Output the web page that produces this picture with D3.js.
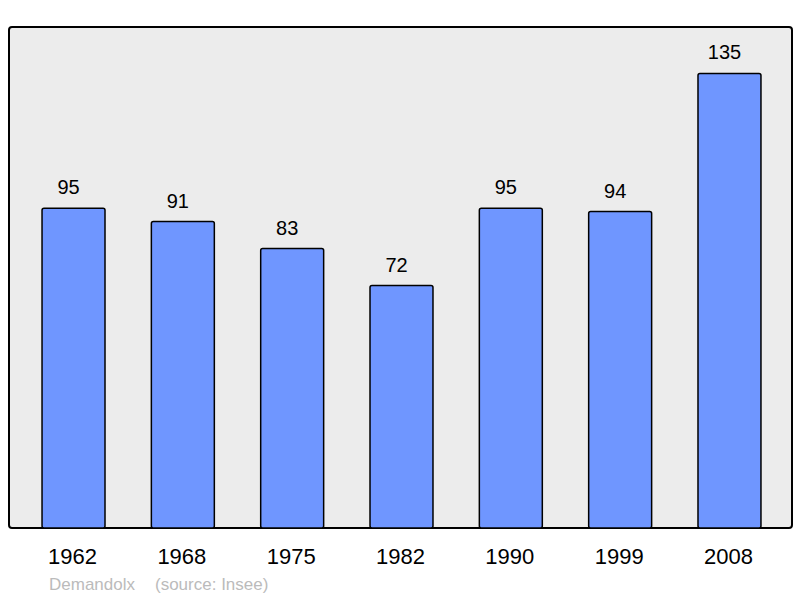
<!DOCTYPE html>
<html>
<head>
<meta charset="utf-8">
<script src="https://cdn.jsdelivr.net/npm/d3@7"></script>
<style>
body{margin:0;background:#fff;}
text{font-family:"Liberation Sans",Arial,sans-serif;}
</style>
</head>
<body>
<div id="chart"></div>
<script>
// données population
var years = ['1962','1968','1975','1982','1990','1999','2008'];
var population = [95, 91, 83, 72, 95, 94, 135];
var commune = 'Demandolx';
var source = '(source: Insee)';

var width = 800, height = 598;
var svg = d3.select('#chart').append('svg')
    .attr('width', width).attr('height', height);

// cadre du graphique
svg.append('rect')
    .attr('x', 9).attr('y', 27)
    .attr('width', 783).attr('height', 501)
    .attr('rx', 3).attr('ry', 3)
    .attr('fill', '#ececec')
    .attr('stroke', '#000').attr('stroke-width', 2);

var x = d3.scaleBand().domain(years).range([10, 793])
    .paddingInner(0.424).paddingOuter(0.293);
var y = d3.scaleLinear().domain([0, 148.5]).range([528, 28]);

var data = years.map(function(yr, i){ return {year: yr, value: population[i]}; });

svg.append('g').selectAll('rect').data(data).enter().append('rect')
    .attr('x', d => x(d.year))
    .attr('y', d => y(d.value))
    .attr('width', x.bandwidth())
    .attr('height', d => y(0) - y(d.value))
    .attr('rx', 2).attr('ry', 2)
    .attr('fill', '#6f96ff')
    .attr('stroke', '#000').attr('stroke-width', 1.5);

// valeurs au-dessus des barres (un peu décalées à gauche comme l'original)
svg.append('g').selectAll('text').data(data).enter().append('text')
    .attr('x', d => x(d.year) + x.bandwidth()/2 - 5)
    .attr('y', d => y(d.value) - 14)
    .attr('text-anchor', 'middle')
    .attr('font-size', '20px')
    .attr('fill', '#000')
    .text(d => d.value);

// axe des années
var xAxis = svg.append('g').attr('transform', 'translate(0,528)')
    .call(d3.axisBottom(x).tickSize(0).tickPadding(20));
xAxis.select('.domain').remove();
xAxis.selectAll('text')
    .attr('font-size', '22px')
    .attr('font-family', '"Liberation Sans",Arial,sans-serif')
    .attr('fill', '#000')
    .attr('dx', '-1');

svg.append('text')
    .attr('x', 49).attr('y', 590)
    .attr('font-size', '17px').attr('fill', '#bbb')
    .text(commune);
svg.append('text')
    .attr('x', 155).attr('y', 590)
    .attr('font-size', '17px').attr('fill', '#bbb')
    .text(source);
</script>
</body>
</html>
